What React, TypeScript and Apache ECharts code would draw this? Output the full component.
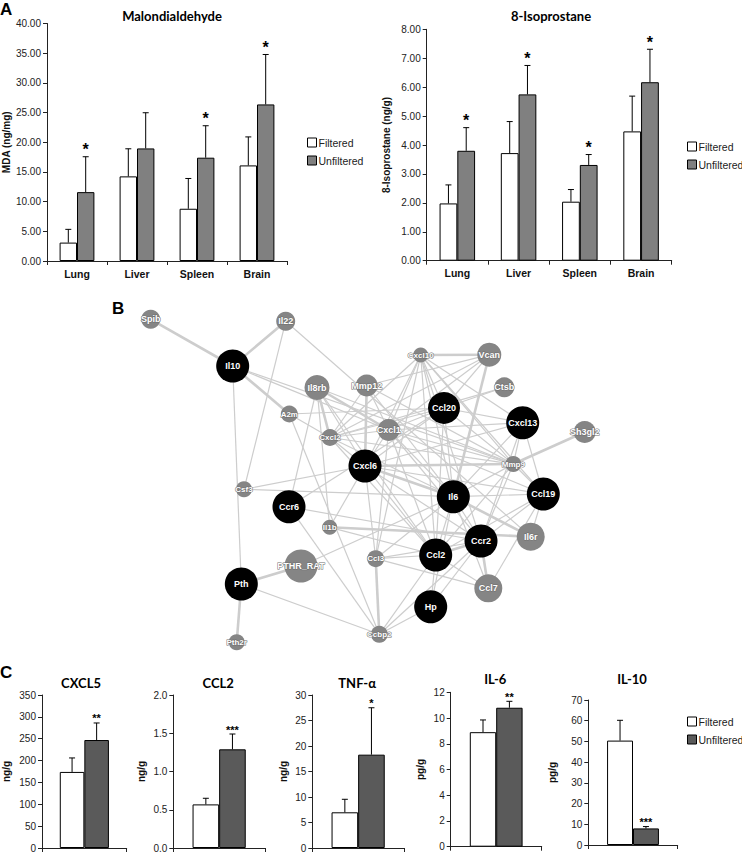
import React, { useEffect, useRef } from 'react';
import * as echarts from 'echarts';

// ---------- Panel A data ----------
const organs = ['Lung', 'Liver', 'Spleen', 'Brain'];
const mdaFiltered = [3.1, 14.25, 8.8, 16.1];
const mdaFilteredErr = [5.33, 18.9, 13.9, 20.9];
const mdaUnfiltered = [11.6, 18.96, 17.4, 26.37];
const mdaUnfilteredErr = [17.56, 24.97, 22.78, 34.78];
const mdaSig = ['*', '', '*', '*'];

const isoFiltered = [1.98, 3.72, 2.04, 4.47];
const isoFilteredErr = [2.62, 4.81, 2.46, 5.69];
const isoUnfiltered = [3.8, 5.75, 3.31, 6.17];
const isoUnfilteredErr = [4.6, 6.75, 3.67, 7.31];
const isoSig = ['*', '*', '*', '*'];

// ---------- Panel C data ----------
const cytokines = ['CXCL5', 'CCL2', 'TNF-α', 'IL-6', 'IL-10'];
const cytoUnits = ['ng/g', 'ng/g', 'ng/g', 'pg/g', 'pg/g'];
const cytoFiltered = [174, 0.57, 7.0, 8.9, 50.4];
const cytoFilteredErr = [206, 0.65, 9.55, 9.85, 60.2];
const cytoUnfiltered = [247, 1.29, 18.3, 10.8, 8.0];
const cytoUnfilteredErr = [286, 1.49, 27.5, 11.3, 8.9];
const cytoSig = ['**', '***', '*', '**', '***'];
const cytoAxisMax = [350, 2.0, 30, 12, 70];
const cytoAxisStep = [50, 0.5, 5, 2, 10];
const cytoDecimals = [0, 1, 0, 0, 0];

// ---------- Panel B data ----------
const geneNames = ['Spib', 'Il22', 'Il10', 'Il8rb', 'Mmp12', 'Cxcl10', 'Vcan', 'Ctsb', 'A2m', 'Cxcl2', 'Cxcl1', 'Ccl20', 'Cxcl13', 'Sh3gl2', 'Mmp9', 'Csf3', 'Cxcl6', 'Ccr6', 'Il6', 'Ccl19', 'Il1b', 'Il6r', 'Ccr2', 'Ccl2', 'Ccl3', 'PTHR_RAT', 'Pth', 'Ccl7', 'Hp', 'Pth2r', 'Ccbp2'];
const hubGenes = ['Il10', 'Ccl20', 'Cxcl13', 'Cxcl6', 'Ccr6', 'Il6', 'Ccl19', 'Ccr2', 'Ccl2', 'Pth', 'Hp'];
const strongLinks = [
  ['Spib', 'Il10'], ['Il22', 'Il10'], ['Il10', 'A2m'], ['Il8rb', 'Cxcl2'], ['Mmp12', 'Cxcl6'], ['Vcan', 'Il6'],
  ['Il6', 'Il6r'], ['Ccr2', 'Ccl2'], ['Ccr2', 'Ccl7'], ['Ccl3', 'Ccbp2'], ['Pth', 'PTHR_RAT'], ['Pth', 'Pth2r'],
  ['Mmp9', 'Sh3gl2'], ['Cxcl10', 'Vcan'], ['Il8rb', 'Cxcl1'], ['Cxcl6', 'Mmp9'], ['Cxcl6', 'Il6'], ['Il1b', 'Il6r'],
];
const weakLinks = [
  ['Il22', 'Csf3'], ['Il22', 'Il6r'], ['Il10', 'Cxcl1'], ['Il10', 'Mmp9'], ['Il10', 'Pth'], ['A2m', 'Cxcl2'],
  ['A2m', 'Ccbp2'], ['A2m', 'Ccl20'], ['Il8rb', 'Cxcl6'], ['Il8rb', 'Mmp9'], ['Il8rb', 'Ccr6'], ['Il8rb', 'Ccl2'],
  ['Mmp12', 'Cxcl2'], ['Mmp12', 'Cxcl1'], ['Mmp12', 'Mmp9'], ['Mmp12', 'Il6'], ['Vcan', 'Mmp12'],
  ['Cxcl10', 'Cxcl2'], ['Cxcl10', 'Cxcl1'], ['Cxcl10', 'Cxcl6'], ['Cxcl10', 'Ccl20'], ['Cxcl10', 'Cxcl13'],
  ['Cxcl10', 'Mmp9'], ['Cxcl10', 'Il6'], ['Cxcl10', 'Ccl2'], ['Cxcl10', 'Ccl19'], ['Cxcl10', 'Ccl3'], ['Cxcl10', 'Ccr2'],
  ['Vcan', 'Ccl20'], ['Vcan', 'Cxcl2'], ['Vcan', 'Cxcl1'], ['Ctsb', 'Cxcl2'], ['Ctsb', 'Ccl20'],
  ['Cxcl2', 'Cxcl1'], ['Cxcl2', 'Cxcl6'], ['Cxcl2', 'Il6'], ['Cxcl2', 'Mmp9'], ['Cxcl2', 'Ccl2'], ['Cxcl2', 'Ccl20'],
  ['Cxcl1', 'Cxcl6'], ['Cxcl1', 'Ccl20'], ['Cxcl1', 'Cxcl13'], ['Cxcl1', 'Mmp9'], ['Cxcl1', 'Il6'], ['Cxcl1', 'Ccl2'],
  ['Cxcl1', 'Ccr2'], ['Cxcl1', 'Ccl3'], ['Cxcl1', 'Ccl19'], ['Cxcl6', 'Ccl2'], ['Cxcl6', 'Ccr2'], ['Cxcl6', 'Ccl3'],
  ['Cxcl6', 'Csf3'], ['Cxcl6', 'Il1b'], ['Cxcl6', 'Ccl20'], ['Cxcl6', 'Cxcl13'], ['Cxcl6', 'Ccl19'], ['Csf3', 'Il6'],
  ['Ccr6', 'Ccr2'], ['Ccr6', 'Ccbp2'], ['Ccr6', 'Ccl20'], ['Il1b', 'Ccl2'], ['Il1b', 'Il8rb'],
  ['Il6', 'Ccr2'], ['Il6', 'Ccl2'], ['Il6', 'Ccl7'], ['Il6', 'Hp'], ['Il6', 'Ccl3'], ['Il6', 'Mmp9'], ['Il6', 'Ccl19'],
  ['Il6', 'Cxcl13'], ['Il6', 'Ccl20'], ['Ccr2', 'Ccl19'], ['Ccr2', 'Ccl3'], ['Ccr2', 'Hp'], ['Ccr2', 'Mmp9'],
  ['Ccr2', 'Ccbp2'], ['Ccl2', 'Ccl7'], ['Ccl2', 'Ccl3'], ['Ccl2', 'Hp'], ['Ccl2', 'Ccbp2'], ['Ccl2', 'Ccl19'],
  ['Ccl2', 'Mmp9'], ['Ccl2', 'Ccl20'], ['Ccl7', 'Ccl3'], ['Ccl7', 'Ccl19'], ['Hp', 'Ccbp2'], ['Pth', 'Ccbp2'],
  ['PTHR_RAT', 'Il6'], ['Mmp9', 'Cxcl13'], ['Mmp9', 'Ccl19'], ['Mmp9', 'Ccl20'], ['Cxcl13', 'Ccl19'],
  ['Cxcl13', 'Ccl20'], ['Cxcl13', 'Ccr2'], ['Ccl19', 'Il6r'],
];

// ---------- Layout (positions / sizes, separate from data) ----------
const networkLayout: Record<string, [number, number, number]> = {
  Spib: [150.7, 319.3, 19], Il22: [285.7, 321.3, 19], Il10: [232.7, 366, 33], Il8rb: [317, 387.5, 25],
  Mmp12: [366.7, 385.5, 22], Cxcl10: [420.7, 355, 15], Vcan: [489.3, 354.7, 24], Ctsb: [504.3, 387.3, 20],
  A2m: [289.3, 414, 17], Cxcl2: [330, 437.5, 17], Cxcl1: [388.7, 430, 22], Ccl20: [444, 408, 32],
  Cxcl13: [522.7, 422.7, 33], Sh3gl2: [584.7, 432, 22], Mmp9: [513.3, 464, 16], Csf3: [244, 489.3, 16],
  Cxcl6: [365, 466, 33], Ccr6: [289, 506.7, 33], Il6: [453.3, 496.7, 33], Ccl19: [543.3, 494, 33],
  Il1b: [329.7, 527.3, 15], Il6r: [530.7, 536.7, 28], Ccr2: [481, 541, 33], Ccl2: [435.7, 555, 33],
  Ccl3: [375.7, 558.7, 17], PTHR_RAT: [301, 566, 33], Pth: [241.3, 584, 33], Ccl7: [488.3, 588.3, 28],
  Hp: [430.7, 606.7, 33], Pth2r: [236.7, 642.3, 16], Ccbp2: [379.3, 634.3, 17],
};
const aGrids = [
  { left: 42, top: 23.5, width: 245, height: 237.5 },
  { left: 426.7, top: 29.3, width: 245, height: 231.4 },
];
const cGrids = [
  { left: 37.3, top: 695, width: 89.4, height: 154.3 },
  { left: 173.3, top: 695, width: 91.7, height: 154.3 },
  { left: 312.3, top: 695, width: 91.7, height: 155 },
  { left: 450.7, top: 692.3, width: 91, height: 154.4 },
  { left: 588.3, top: 700, width: 89.4, height: 145 },
];
const cNameGap = [31, 27, 24, 25, 31];
const cTitleY = [683, 683, 683, 679, 679];

const NARROW = "'Liberation Sans Narrow', 'Liberation Sans', Arial, sans-serif";
const TITLEF = "Lato, 'Liberation Sans', sans-serif";
const ARIAL = "'Liberation Sans', Arial, sans-serif";
const GRAY_A = '#808080';
const GRAY_C = '#5a5a5a';

function catAxis(gridIndex: number, data: string[], showLabel: boolean) {
  return {
    type: 'category', gridIndex, data,
    axisLine: { lineStyle: { color: '#222', width: 1 } },
    axisTick: { show: true, length: 4, lineStyle: { color: '#222' } },
    axisLabel: { show: showLabel, fontFamily: NARROW, fontWeight: 'bold', fontSize: 10.5, color: '#111', margin: 7 },
  };
}

function valAxis(gridIndex: number, max: number, interval: number, decimals: number, name: string, nameGap: number, fontSize: number) {
  return {
    type: 'value', gridIndex, min: 0, max, interval,
    name, nameLocation: 'middle', nameGap, nameRotate: 90,
    nameTextStyle: { fontFamily: NARROW, fontWeight: 'bold', fontSize: 10, color: '#111' },
    axisLine: { show: true, lineStyle: { color: '#222', width: 1 } },
    axisTick: { show: true, length: 4, lineStyle: { color: '#222' } },
    axisLabel: { fontFamily: NARROW, fontSize, color: '#222', margin: 6, formatter: (v: number) => v.toFixed(decimals) },
    splitLine: { show: false },
  };
}

function errorSeries(g: number, vals: number[], errs: number[], side: number, sigs: string[] | null, starSize: number) {
  return {
    type: 'custom', xAxisIndex: g, yAxisIndex: g, z: 5, silent: true,
    data: vals.map((v, i) => [i, v, errs[i]]),
    renderItem: (params: any, api: any) => {
      const i = api.value(0);
      const v = api.value(1);
      const e = api.value(2);
      const band = api.size([1, 0])[0];
      const base = api.coord([i, v]);
      const top = api.coord([i, e]);
      const x = base[0] + side * band * 0.145;
      const children: any[] = [
        { type: 'line', shape: { x1: x, y1: base[1], x2: x, y2: top[1] }, style: { stroke: '#000', lineWidth: 1 } },
        { type: 'line', shape: { x1: x - 3, y1: top[1], x2: x + 3, y2: top[1] }, style: { stroke: '#000', lineWidth: 1 } },
      ];
      const s = sigs ? sigs[params.dataIndex] : '';
      if (s) {
        children.push({
          type: 'text',
          style: { text: s, x, y: top[1] + 1, align: 'center', verticalAlign: 'bottom', fontFamily: ARIAL, fontWeight: 'bold', fontSize: starSize, fill: '#000' },
        });
      }
      return { type: 'group', children };
    },
  };
}

function barSeries(g: number, name: string, data: number[], color: string) {
  return {
    type: 'bar', name, xAxisIndex: g, yAxisIndex: g, data, barWidth: '29%', barGap: '0%', z: 2,
    itemStyle: { color, borderColor: '#000', borderWidth: 1 },
    emphasis: { disabled: true },
  };
}

function legendAt(left: number, top: number, unfilteredColor: string) {
  return {
    orient: 'vertical', left, top, itemWidth: 9, itemHeight: 9, itemGap: 7, icon: 'rect',
    selectedMode: false,
    textStyle: { fontFamily: NARROW, fontSize: 10.5, color: '#222', padding: [0, 0, 0, -3] },
    data: [
      { name: 'Filtered', itemStyle: { color: '#fff', borderColor: '#000', borderWidth: 1 } },
      { name: 'Unfiltered', itemStyle: { color: unfilteredColor, borderColor: '#000', borderWidth: 1 } },
    ],
  };
}

function buildOption() {
  const grid: any[] = [];
  const xAxis: any[] = [];
  const yAxis: any[] = [];
  const series: any[] = [];

  // Panel A
  grid.push(aGrids[0], aGrids[1]);
  xAxis.push(catAxis(0, organs, true), catAxis(1, organs, true));
  yAxis.push(valAxis(0, 40, 5, 2, 'MDA (ng/mg)', 36, 10));
  yAxis.push(valAxis(1, 8, 1, 2, '8-Isoprostane (ng/g)', 35, 10));
  series.push(barSeries(0, 'Filtered', mdaFiltered, '#fff'), barSeries(0, 'Unfiltered', mdaUnfiltered, GRAY_A));
  series.push(errorSeries(0, mdaFiltered, mdaFilteredErr, -1, null, 16), errorSeries(0, mdaUnfiltered, mdaUnfilteredErr, 1, mdaSig, 16));
  series.push(barSeries(1, 'Filtered', isoFiltered, '#fff'), barSeries(1, 'Unfiltered', isoUnfiltered, GRAY_A));
  series.push(errorSeries(1, isoFiltered, isoFilteredErr, -1, null, 16), errorSeries(1, isoUnfiltered, isoUnfilteredErr, 1, isoSig, 16));

  // Panel C
  cytokines.forEach((c, k) => {
    const g = 2 + k;
    grid.push(cGrids[k]);
    xAxis.push(catAxis(g, [c], false));
    yAxis.push(valAxis(g, cytoAxisMax[k], cytoAxisStep[k], cytoDecimals[k], cytoUnits[k], cNameGap[k], 10));
    series.push(barSeries(g, 'Filtered', [cytoFiltered[k]], '#fff'), barSeries(g, 'Unfiltered', [cytoUnfiltered[k]], GRAY_C));
    series.push(errorSeries(g, [cytoFiltered[k]], [cytoFilteredErr[k]], -1, null, 11));
    series.push(errorSeries(g, [cytoUnfiltered[k]], [cytoUnfilteredErr[k]], 1, [cytoSig[k]], 11));
  });

  // Panel B network on its own hidden cartesian grid
  grid.push({ left: 100, top: 290, width: 520, height: 370 });
  xAxis.push({ type: 'value', gridIndex: 7, min: 100, max: 620, show: false });
  yAxis.push({ type: 'value', gridIndex: 7, min: 290, max: 660, inverse: true, show: false });
  series.push({
    type: 'graph', coordinateSystem: 'cartesian2d', xAxisIndex: 7, yAxisIndex: 7, layout: 'none', z: 1,
    silent: true,
    data: geneNames.map((n) => {
      const hub = hubGenes.includes(n);
      const [x, y, size] = networkLayout[n];
      return {
        name: n, value: [x, y], symbolSize: size,
        itemStyle: { color: hub ? '#000' : '#858585' },
        label: hub
          ? { show: true, color: '#fff', fontSize: 9, fontWeight: 'bold', fontFamily: ARIAL }
          : { show: true, color: '#fff', fontSize: size < 18 ? 8 : 9, fontWeight: 'bold', fontFamily: ARIAL, textBorderColor: '#707070', textBorderWidth: 1 },
      };
    }),
    links: [
      ...weakLinks.map(([s, t]) => ({ source: s, target: t, lineStyle: { width: 1.2 } })),
      ...strongLinks.map(([s, t]) => ({ source: s, target: t, lineStyle: { width: 2.6 } })),
    ],
    lineStyle: { color: '#cdcdcd', opacity: 1, curveness: 0 },
    label: { show: true, position: 'inside' },
    emphasis: { disabled: true },
  });

  const graphic: any[] = [
    { type: 'text', x: 0, y: 9, style: { text: 'A', fontFamily: ARIAL, fontWeight: 'bold', fontSize: 17, fill: '#000', verticalAlign: 'middle' } },
    { type: 'text', x: 112, y: 308, style: { text: 'B', fontFamily: ARIAL, fontWeight: 'bold', fontSize: 17, fill: '#000', verticalAlign: 'middle' } },
    { type: 'text', x: 0, y: 672, style: { text: 'C', fontFamily: ARIAL, fontWeight: 'bold', fontSize: 17, fill: '#000', verticalAlign: 'middle' } },
    { type: 'text', x: 172, y: 16, style: { text: 'Malondialdehyde', fontFamily: TITLEF, fontWeight: 'bold', fontSize: 13, fill: '#000', align: 'center', verticalAlign: 'middle' } },
    { type: 'text', x: 551, y: 16, style: { text: '8-Isoprostane', fontFamily: TITLEF, fontWeight: 'bold', fontSize: 13, fill: '#000', align: 'center', verticalAlign: 'middle' } },
  ];
  cytokines.forEach((c, k) => {
    const gr = cGrids[k];
    graphic.push({
      type: 'text', x: gr.left + gr.width / 2 - 1, y: cTitleY[k],
      style: { text: c, fontFamily: TITLEF, fontWeight: 'bold', fontSize: 13, fill: '#000', align: 'center', verticalAlign: 'middle' },
    });
  });

  return {
    animation: false,
    backgroundColor: '#fff',
    grid, xAxis, yAxis, series, graphic,
    legend: [legendAt(302, 132, GRAY_A), legendAt(682, 136, GRAY_A), legendAt(682, 711, GRAY_C)],
  };
}

export default function App() {
  const ref = useRef<HTMLDivElement>(null);
  useEffect(() => {
    document.body.style.margin = '0';
    const chart = echarts.init(ref.current!, null, { renderer: 'svg' });
    chart.setOption(buildOption() as any);
    return () => chart.dispose();
  }, []);
  return <div ref={ref} style={{ width: 742, height: 853 }} />;
}
